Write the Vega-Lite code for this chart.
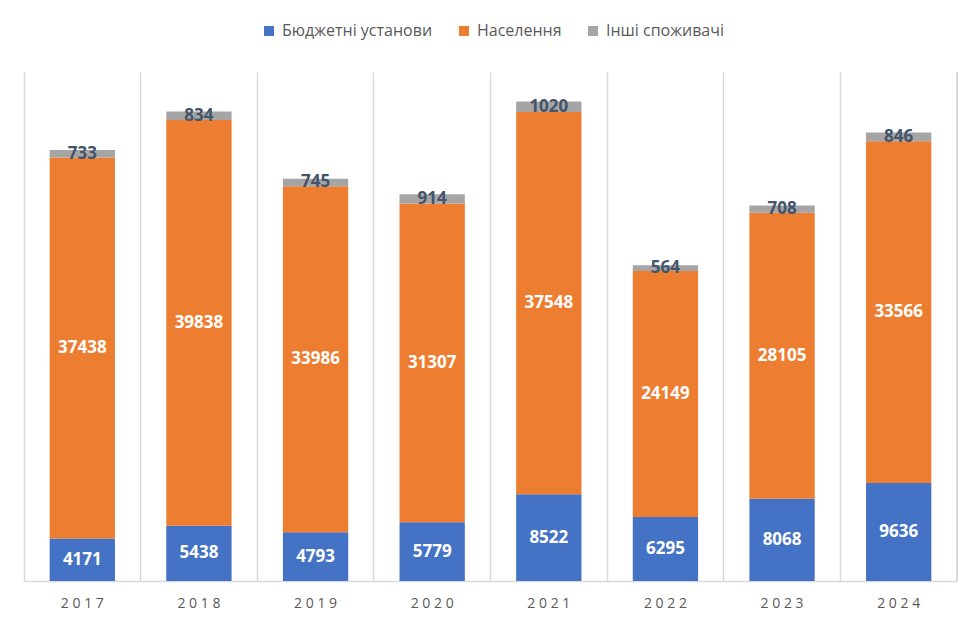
{
  "$schema": "https://vega.github.io/schema/vega-lite/v6.json",
  "width": 933,
  "height": 509,
  "autosize": "none",
  "padding": {"left": 24, "top": 72, "right": 22, "bottom": 46},
  "background": "white",
  "config": {
    "view": {"stroke": null},
    "font": "Open Sans"
  },
  "data": {
    "values": [
      {"year": "2017", "group": "Бюджетні установи", "value": 4171},
      {"year": "2017", "group": "Населення", "value": 37438},
      {"year": "2017", "group": "Інші споживачі", "value": 733},
      {"year": "2018", "group": "Бюджетні установи", "value": 5438},
      {"year": "2018", "group": "Населення", "value": 39838},
      {"year": "2018", "group": "Інші споживачі", "value": 834},
      {"year": "2019", "group": "Бюджетні установи", "value": 4793},
      {"year": "2019", "group": "Населення", "value": 33986},
      {"year": "2019", "group": "Інші споживачі", "value": 745},
      {"year": "2020", "group": "Бюджетні установи", "value": 5779},
      {"year": "2020", "group": "Населення", "value": 31307},
      {"year": "2020", "group": "Інші споживачі", "value": 914},
      {"year": "2021", "group": "Бюджетні установи", "value": 8522},
      {"year": "2021", "group": "Населення", "value": 37548},
      {"year": "2021", "group": "Інші споживачі", "value": 1020},
      {"year": "2022", "group": "Бюджетні установи", "value": 6295},
      {"year": "2022", "group": "Населення", "value": 24149},
      {"year": "2022", "group": "Інші споживачі", "value": 564},
      {"year": "2023", "group": "Бюджетні установи", "value": 8068},
      {"year": "2023", "group": "Населення", "value": 28105},
      {"year": "2023", "group": "Інші споживачі", "value": 708},
      {"year": "2024", "group": "Бюджетні установи", "value": 9636},
      {"year": "2024", "group": "Населення", "value": 33566},
      {"year": "2024", "group": "Інші споживачі", "value": 846}
    ]
  },
  "transform": [
    {"calculate": "indexof(['Бюджетні установи', 'Населення', 'Інші споживачі'], datum.group)", "as": "stackOrder"}
  ],
  "encoding": {
    "x": {
      "field": "year",
      "type": "nominal",
      "scale": {"paddingInner": 0, "paddingOuter": 0},
      "axis": {
        "title": null,
        "labelAngle": 0,
        "bandPosition": 0,
        "labelExpr": "join(split(datum.label, ''), ' ')",
        "labelFontSize": 14,
        "labelColor": "#595959",
        "labelPadding": 15,
        "ticks": false,
        "domainColor": "#d9d9d9",
        "domainWidth": 1.5,
        "grid": true,
        "gridColor": "#d9d9d9",
        "gridWidth": 1.5
      }
    }
  },
  "layer": [
    {
      "mark": {"type": "bar", "width": {"band": 0.56}},
      "encoding": {
        "y": {
          "field": "value",
          "type": "quantitative",
          "stack": "zero",
          "scale": {"domain": [0, 50000]},
          "axis": null
        },
        "order": {"field": "stackOrder", "type": "quantitative", "sort": "ascending"},
        "color": {
          "field": "group",
          "type": "nominal",
          "scale": {
            "domain": ["Бюджетні установи", "Населення", "Інші споживачі"],
            "range": ["#4472C4", "#ED7D31", "#A5A5A5"]
          },
          "legend": {
            "title": null,
            "orient": "none",
            "direction": "horizontal",
            "legendX": 237,
            "legendY": -49,
            "symbolType": "square",
            "symbolSize": 100,
            "symbolStrokeWidth": 0,
            "labelFontSize": 16,
            "labelColor": "#595959",
            "labelOffset": 5,
            "columnPadding": 23
          }
        }
      }
    },
    {
      "mark": {"type": "text", "fontWeight": "bold", "fontSize": 17},
      "encoding": {
        "y": {
          "field": "value",
          "type": "quantitative",
          "stack": "zero",
          "bandPosition": 0.5
        },
        "order": {"field": "stackOrder", "type": "quantitative", "sort": "ascending"},
        "detail": {"field": "group", "type": "nominal"},
        "text": {"field": "value", "type": "quantitative", "format": "d"},
        "color": {
          "condition": {"test": "datum.group === 'Інші споживачі'", "value": "#44546A"},
          "value": "white"
        }
      }
    },
    {
      "mark": {"type": "rule", "color": "#d9d9d9", "strokeWidth": 1.5},
      "encoding": {
        "x": {"datum": "2024", "bandPosition": 1}
      }
    }
  ]
}
